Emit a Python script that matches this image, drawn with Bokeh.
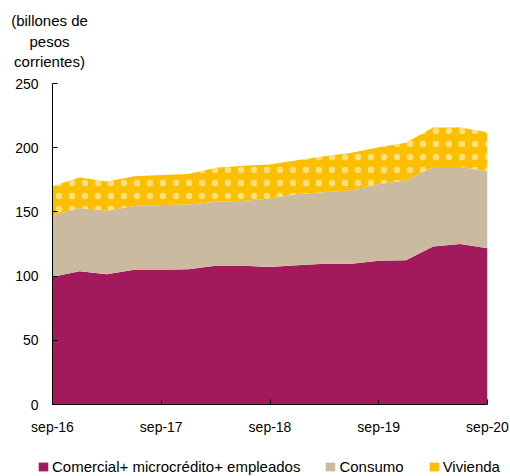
import numpy as np
from bokeh.plotting import figure
from bokeh.layouts import column
from bokeh.models import Legend, LegendItem, Label, FixedTicker, Range1d
from bokeh.embed import file_html
from bokeh.resources import INLINE

# Quarterly data, sep-16 .. sep-20 (billones de pesos corrientes)
quarters = ["sep-16", "dic-16", "mar-17", "jun-17", "sep-17", "dic-17", "mar-18", "jun-18",
            "sep-18", "dic-18", "mar-19", "jun-19", "sep-19", "dic-19", "mar-20", "jun-20", "sep-20"]
comercial = [99.5, 103.8, 101.5, 105.0, 105.0, 105.3, 108.0, 108.0, 107.0, 108.5, 109.6, 109.6,
             112.0, 112.4, 123.0, 125.0, 121.7]
consumo = [47.8, 49.2, 49.3, 49.5, 50.3, 50.5, 50.0, 50.5, 53.5, 55.5, 55.7, 57.3,
           59.8, 62.1, 62.0, 60.0, 60.0]
vivienda = [22.7, 23.8, 22.9, 23.3, 23.4, 23.7, 26.3, 27.4, 26.5, 26.3, 28.1, 29.1,
            28.6, 29.3, 30.7, 30.7, 30.3]
tick_labels = ["sep-16", "sep-17", "sep-18", "sep-19", "sep-20"]
y_ticks = [0, 50, 100, 150, 200, 250]
series_names = ["Comercial+ microcrédito+ empleados", "Consumo", "Vivienda"]
title_lines = ["(billones de", "pesos", "corrientes)"]
colors = ["#A21A5B", "#CABA9F", "#FBBF00"]

x = np.arange(len(quarters))
s1 = np.array(comercial)
s2 = s1 + np.array(consumo)
s3 = s2 + np.array(vivienda)

FONT = "Liberation Sans"
W = 510
MAIN_LEFT = 52


def strip(height):
    f = figure(width=W, height=height, output_backend="svg", toolbar_location=None,
               x_range=Range1d(0, 1), y_range=Range1d(0, 1),
               x_axis_location=None, y_axis_location=None, min_border=0)
    f.outline_line_color = None
    f.xgrid.visible = False
    f.ygrid.visible = False
    f.background_fill_alpha = 0
    f.border_fill_alpha = 0
    return f


# ---------- title strip ----------
pt = strip(72)
aligned_off = True
if "frame_align" in pt.properties():
    pt.frame_align = False
else:
    aligned_off = False
dx = 0 if aligned_off else -MAIN_LEFT
for line, yy in zip(title_lines, [52, 31, 11]):
    pt.add_layout(Label(x=49 + dx, y=yy, x_units="screen", y_units="screen", text=line,
                        text_align="center", text_baseline="middle", text_font=FONT,
                        text_font_size="15px", text_color="black"))

# ---------- main chart ----------
p = figure(width=W, height=376, output_backend="svg", toolbar_location=None,
           x_range=Range1d(0, len(quarters) - 1), y_range=Range1d(0, 250),
           min_border_left=MAIN_LEFT, min_border_right=23, min_border_top=11, min_border_bottom=44)
p.outline_line_color = None
p.xgrid.visible = False
p.ygrid.visible = False

r1 = p.varea(x=x, y1=np.zeros(len(x)), y2=s1, fill_color=colors[0])
r2 = p.varea(x=x, y1=s1, y2=s2, fill_color=colors[1])
r3 = p.varea(x=x, y1=s2, y2=s3, fill_color=colors[2],
             hatch_pattern="dot", hatch_color="white", hatch_scale=13, hatch_weight=1,
             hatch_alpha=0.5)

tick_pos = [quarters.index(t) for t in tick_labels]
p.xaxis.ticker = FixedTicker(ticks=tick_pos)
p.xaxis.major_label_overrides = {i: t for i, t in zip(tick_pos, tick_labels)}
p.yaxis.ticker = FixedTicker(ticks=y_ticks)

for ax in (p.xaxis[0], p.yaxis[0]):
    ax.axis_line_color = "black"
    ax.axis_line_width = 1
    ax.major_tick_line_color = "black"
    ax.major_tick_in = 5
    ax.major_tick_out = 0
    ax.minor_tick_line_color = None
    ax.major_label_text_font = FONT
    ax.major_label_text_font_size = "14px"
    ax.major_label_text_color = "black"
p.yaxis.major_label_standoff = 14
p.xaxis.major_label_standoff = 14

# ---------- legend strip ----------
pl = strip(28)
if aligned_off:
    pl.frame_align = False
lr = [pl.varea(x=[0], y1=[0], y2=[0], fill_color=c) for c in colors]

legend = Legend(items=[LegendItem(label=n, renderers=[r], index=0) for n, r in zip(series_names, lr)],
                orientation="horizontal", location=(37 + dx, 1),
                label_text_font=FONT, label_text_font_size="15px", label_text_color="black",
                glyph_width=12, glyph_height=11, spacing=24, label_standoff=3,
                padding=0, margin=0, border_line_color=None, background_fill_alpha=0)
pl.add_layout(legend, "center")

layout = column(pt, p, pl, spacing=0)
open("out.html", "w").write(file_html(layout, INLINE))
